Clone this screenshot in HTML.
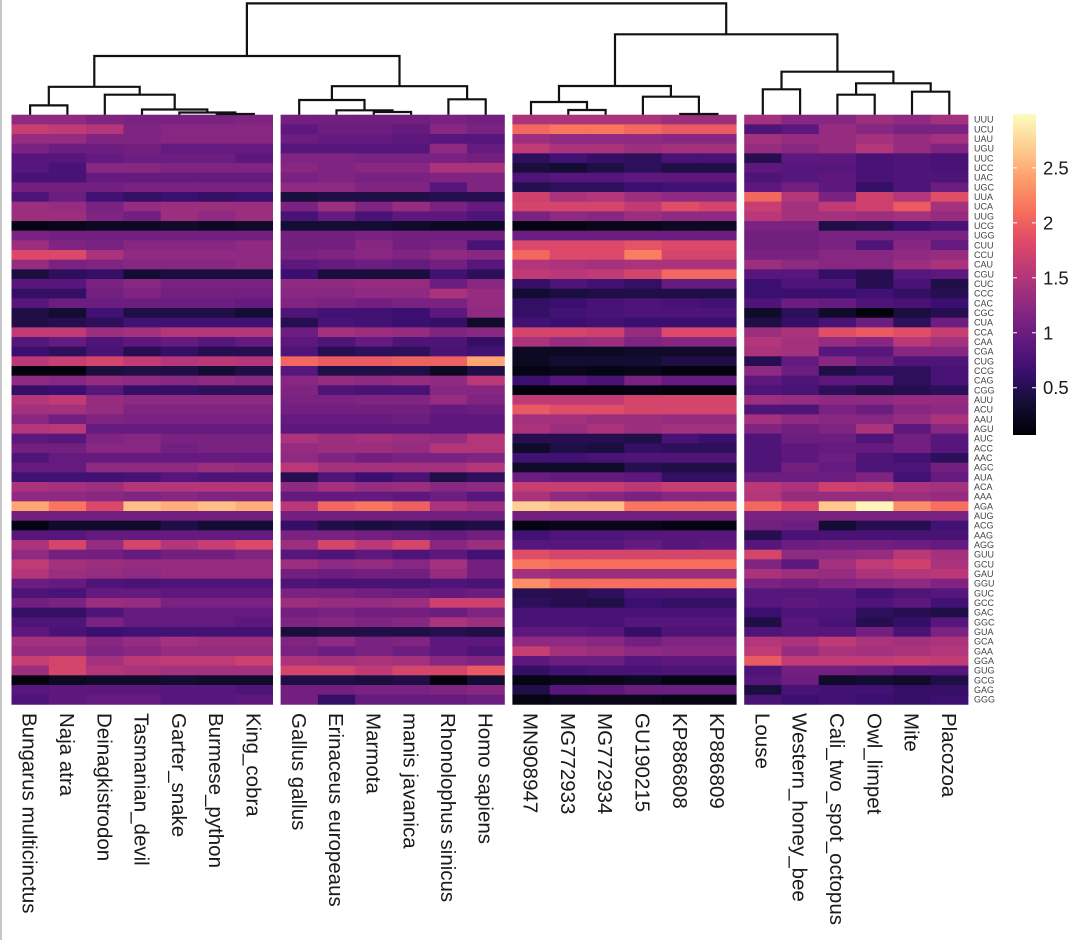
<!DOCTYPE html>
<html><head><meta charset="utf-8">
<style>
html,body{margin:0;padding:0;background:#fff;}
svg{display:block;font-family:"Liberation Sans",Arial,sans-serif;}
</style></head>
<body>
<svg id="chart" width="1080" height="940" viewBox="0 0 1080 940" xmlns="http://www.w3.org/2000/svg">
<rect x="0" y="0" width="1080" height="940" fill="#fff"/>
<line x1="1" y1="0" x2="1" y2="940" stroke="#c8c8c8" stroke-width="2"/>
<g id="cells"></g>
<g id="dendro"></g>
<g id="rowlabels"></g>
<g id="collabels"></g>
<g id="legend"></g>
</svg>
<script>
const codons = ["UUU","UCU","UAU","UGU","UUC","UCC","UAC","UGC","UUA","UCA","UUG","UCG","UGG","CUU","CCU","CAU","CGU","CUC","CCC","CAC","CGC","CUA","CCA","CAA","CGA","CUG","CCG","CAG","CGG","AUU","ACU","AAU","AGU","AUC","ACC","AAC","AGC","AUA","ACA","AAA","AGA","AUG","ACG","AAG","AGG","GUU","GCU","GAU","GGU","GUC","GCC","GAC","GGC","GUA","GCA","GAA","GGA","GUG","GCG","GAG","GGG"];
const species = ["Bungarus multicinctus","Naja atra","Deinagkistrodon","Tasmanian_devil","Garter_snake","Burmese_python","King_cobra","Gallus gallus","Erinaceus europeaus","Marmota","manis javanica","Rhonolophus sinicus","Homo sapiens","MN908947","MG772933","MG772934","GU190215","KP886808","KP886809","Louse","Western_honey_bee","Cali_two_spot_octopus","Owl_limpet","Mite","Placozoa"];
const groupSizes = [7,6,6,6];
const legendTicks = [0.5,1,1.5,2,2.5];
const colorDomain = [0.07,2.99];
const values = [
[1.25,1.25,1.15,1.1,1.1,1.1,1.15, 1.05,1.05,1.05,1.05,1.1,1.05, 1.45,1.45,1.45,1.45,1.35,1.35, 1.4,1.2,1.2,1.35,1.25,1.4],
[1.65,1.6,1.5,1.15,1.2,1.2,1.2, 0.9,1.0,1.0,0.95,1.2,1.1, 2.05,2.15,2.15,2.05,1.95,1.95, 0.8,0.9,1.3,1.2,1.1,1.1],
[1.3,1.3,1.15,1.15,1.2,1.2,1.2, 1.0,0.95,0.95,0.9,0.85,0.85, 1.35,1.25,1.25,1.25,1.2,1.2, 1.4,1.3,1.3,1.4,1.3,1.4],
[1.1,1.0,1.0,1.05,0.95,0.95,0.95, 0.85,0.85,0.85,0.85,1.25,0.95, 1.6,1.45,1.45,1.35,1.4,1.4, 1.3,1.2,1.3,1.5,1.3,1.15],
[0.85,0.85,0.95,1.0,1.0,1.0,0.9, 1.15,1.15,1.1,1.1,1.1,1.05, 0.55,0.7,0.6,0.55,0.75,0.75, 0.5,0.9,0.9,0.75,0.8,0.75],
[0.85,0.75,1.2,1.2,1.15,1.15,1.15, 1.2,1.15,1.2,1.2,1.45,1.45, 0.4,0.35,0.45,0.55,0.45,0.45, 0.9,0.85,0.85,0.75,0.8,0.75],
[0.75,0.75,0.95,0.95,0.95,0.95,0.95, 1.1,1.15,1.1,1.1,1.15,1.15, 0.8,0.85,0.85,0.9,0.9,0.9, 0.8,0.85,0.9,0.75,0.8,0.8],
[1.05,1.05,1.05,1.1,1.1,1.1,1.1, 1.25,1.25,1.15,1.15,0.85,1.15, 0.5,0.55,0.55,0.65,0.7,0.7, 0.9,1.05,0.9,0.6,0.8,1.0],
[0.8,1.0,0.7,0.6,0.65,0.6,0.65, 0.4,0.45,0.45,0.45,0.5,0.5, 1.7,1.45,1.5,1.35,1.25,1.25, 2.05,1.5,1.1,1.7,1.5,1.85],
[1.35,1.3,1.1,1.3,1.35,1.35,1.35, 1.1,1.35,1.15,1.3,1.1,0.95, 1.75,1.75,1.75,1.6,1.85,1.75, 1.65,1.4,1.6,1.7,1.95,1.4],
[1.35,1.35,1.15,1.05,1.35,1.25,1.35, 0.75,0.95,0.75,0.9,0.9,0.8, 1.1,1.25,1.2,1.35,1.25,1.25, 1.55,1.4,1.4,1.35,1.4,1.3],
[0.15,0.2,0.25,0.25,0.3,0.25,0.3, 0.35,0.35,0.35,0.3,0.25,0.25, 0.15,0.15,0.2,0.2,0.25,0.25, 1.1,1.1,0.45,0.5,0.65,0.75],
[1.1,1.05,1.05,1.05,1.05,1.05,1.05, 1.05,1.05,1.1,1.05,1.05,1.05, 1.0,1.0,1.0,1.0,1.0,1.0, 1.05,1.05,1.1,1.1,1.1,1.1],
[1.35,1.15,1.1,1.2,1.2,1.2,1.25, 1.05,1.05,1.2,1.05,1.1,0.75, 1.8,1.8,1.8,1.9,1.8,1.8, 1.05,1.05,1.1,0.8,1.2,0.95],
[1.8,1.8,1.45,1.25,1.25,1.25,1.25, 1.1,1.15,1.2,1.15,1.25,1.2, 2.05,1.8,1.8,2.2,1.75,1.75, 1.1,1.1,1.2,1.2,1.25,1.3],
[1.3,1.1,1.15,1.2,1.2,1.2,1.25, 0.9,0.95,1.0,0.95,1.05,0.85, 1.5,1.45,1.4,1.45,1.45,1.45, 1.35,1.25,1.2,1.2,1.35,1.45],
[0.4,0.55,0.6,0.35,0.4,0.4,0.4, 0.65,0.4,0.4,0.4,0.7,0.55, 1.6,1.55,1.6,1.75,2.05,2.05, 0.85,0.85,0.6,0.5,0.85,0.9],
[0.85,0.85,1.1,1.2,1.1,1.1,1.1, 1.25,1.25,1.3,1.3,1.0,1.2, 0.6,0.8,0.7,0.6,0.95,0.95, 0.65,0.8,0.8,0.5,0.75,0.45],
[0.6,0.6,1.05,1.15,1.05,1.05,1.05, 1.2,1.2,1.25,1.25,1.45,1.3, 0.35,0.4,0.45,0.45,0.45,0.45, 0.65,0.65,0.65,0.7,0.6,0.5],
[0.85,1.0,1.0,1.0,1.0,1.0,0.95, 1.15,1.1,1.05,1.1,1.1,1.3, 0.6,0.65,0.75,0.8,0.75,0.7, 0.8,1.0,0.95,0.8,0.75,0.65],
[0.45,0.35,0.7,0.45,0.45,0.45,0.35, 0.8,0.7,0.7,0.65,0.9,1.25, 0.6,0.7,0.75,0.8,0.8,0.8, 0.3,0.55,0.3,0.12,0.4,0.5],
[0.45,0.5,0.55,0.7,0.7,0.7,0.7, 0.5,0.75,0.7,0.65,0.6,0.3, 0.7,0.65,0.7,0.65,0.65,0.65, 0.45,0.6,0.75,1.0,0.55,1.0],
[1.6,1.6,1.35,1.4,1.5,1.5,1.5, 1.0,1.4,1.35,1.3,1.15,1.2, 1.75,1.75,1.7,1.3,1.8,1.8, 1.35,1.45,1.85,1.95,1.85,1.65],
[0.85,0.95,0.8,0.9,0.95,0.85,0.95, 0.9,0.8,0.95,0.8,0.8,0.6, 1.45,1.3,1.35,1.15,1.2,1.2, 1.5,1.4,1.3,1.2,1.55,1.4],
[0.65,0.55,0.75,0.5,0.6,0.5,0.5, 0.8,0.5,0.55,0.55,0.75,0.7, 0.25,0.25,0.25,0.3,0.3,0.3, 1.45,1.4,0.85,0.85,1.2,1.2],
[1.55,1.65,1.75,1.6,1.5,1.55,1.5, 2.05,1.95,1.95,2.0,2.0,2.45, 0.25,0.35,0.35,0.35,0.45,0.45, 0.5,0.95,1.2,1.0,0.8,0.8],
[0.12,0.12,0.4,0.45,0.45,0.35,0.45, 0.85,0.45,0.45,0.45,0.25,0.45, 0.15,0.2,0.15,0.2,0.12,0.12, 1.25,1.0,0.45,0.55,0.55,0.75],
[1.25,1.2,1.3,1.25,1.2,1.25,1.2, 1.2,1.3,1.25,1.3,1.25,1.55, 0.65,0.85,0.75,1.1,0.95,0.95, 0.9,0.8,0.9,0.9,0.55,0.75],
[0.6,0.65,0.85,0.6,0.6,0.55,0.55, 1.15,0.8,0.75,0.75,1.2,1.2, 0.12,0.12,0.12,0.15,0.12,0.12, 0.8,0.75,0.55,0.45,0.5,0.55],
[1.5,1.6,1.3,1.25,1.25,1.25,1.25, 1.1,1.1,1.15,1.15,1.3,1.15, 1.6,1.6,1.6,1.75,1.75,1.75, 1.35,1.3,1.25,1.25,1.3,1.3],
[1.4,1.4,1.3,1.15,1.15,1.15,1.15, 1.05,1.05,1.05,1.05,0.95,1.0, 1.95,1.85,1.85,1.75,1.75,1.75, 0.8,0.8,1.1,1.0,1.2,1.25],
[1.2,1.05,1.15,1.1,1.1,1.1,1.1, 0.95,0.95,0.95,1.0,0.9,0.9, 1.4,1.4,1.35,1.35,1.3,1.3, 1.4,1.25,1.2,1.2,1.3,1.45],
[1.5,1.55,0.95,0.95,0.95,0.95,0.95, 0.9,0.9,0.9,0.9,0.9,0.9, 1.45,1.35,1.45,1.35,1.4,1.4, 1.15,1.05,1.15,1.45,0.9,1.2],
[0.9,0.85,1.15,1.2,1.1,1.1,1.1, 1.45,1.35,1.4,1.35,1.3,1.5, 0.5,0.5,0.5,0.45,0.75,0.65, 0.8,1.0,1.0,0.8,1.05,0.85],
[1.05,1.05,1.2,1.2,1.05,1.1,1.1, 1.3,1.35,1.35,1.3,1.5,1.5, 0.3,0.45,0.4,0.6,0.55,0.55, 0.8,0.9,0.95,0.95,1.05,0.85],
[0.8,0.95,0.95,0.95,0.95,0.95,0.95, 1.25,1.15,1.05,1.1,1.1,1.15, 0.7,0.7,0.75,0.8,0.8,0.8, 0.8,0.9,1.0,0.8,0.7,0.55],
[0.95,0.95,1.25,1.25,1.25,1.35,1.3, 1.55,1.4,1.4,1.4,1.4,1.5, 0.3,0.3,0.3,0.5,0.45,0.45, 0.8,1.05,0.95,0.8,0.8,1.05],
[0.7,0.7,0.7,0.75,0.85,0.8,0.8, 0.5,0.8,0.65,0.75,0.45,0.55, 1.0,0.95,0.95,0.9,0.6,0.6, 1.0,1.0,1.0,1.15,0.7,0.95],
[1.45,1.4,1.35,1.5,1.5,1.5,1.5, 1.25,1.4,1.3,1.35,1.2,1.25, 1.65,1.65,1.65,1.55,1.65,1.65, 1.55,1.45,1.7,1.65,1.45,1.4],
[1.25,1.25,1.2,1.15,1.2,1.15,1.15, 0.95,0.95,0.95,0.9,1.0,0.85, 1.45,1.25,1.2,1.1,1.2,1.2, 1.5,1.3,1.3,1.3,1.35,1.3],
[2.45,2.15,1.8,2.6,2.5,2.6,2.5, 1.55,2.05,2.15,2.0,1.45,1.35, 2.7,2.6,2.6,2.15,2.15,2.15, 2.05,1.8,2.65,2.95,2.3,2.1],
[1.05,1.05,1.05,1.05,1.05,1.05,1.05, 1.05,1.05,1.05,1.05,1.05,1.05, 1.05,1.05,1.05,1.05,1.05,1.05, 1.1,1.1,1.1,1.1,1.1,1.1],
[0.15,0.3,0.3,0.3,0.45,0.35,0.35, 0.6,0.45,0.4,0.45,0.4,0.45, 0.15,0.2,0.2,0.2,0.15,0.15, 1.05,1.0,0.35,0.5,0.5,0.7],
[0.85,0.85,0.95,0.95,0.95,0.95,0.95, 1.1,1.1,1.05,1.0,0.95,1.05, 0.7,0.8,0.8,0.85,0.85,0.85, 0.5,0.75,0.75,0.75,0.75,0.75],
[1.45,1.75,1.3,1.75,1.5,1.65,1.8, 1.35,1.75,1.55,1.75,1.2,1.35, 0.85,0.85,0.85,0.95,0.85,0.9, 0.85,1.0,1.05,1.05,1.0,0.95],
[1.25,1.05,1.05,0.95,1.05,1.05,1.15, 0.85,0.8,0.9,0.8,0.9,0.7, 1.85,1.75,1.75,1.75,1.75,1.75, 1.75,1.25,1.25,1.3,1.55,1.4],
[1.6,1.4,1.35,1.3,1.3,1.3,1.3, 1.35,1.25,1.3,1.2,1.4,1.05, 2.15,2.1,2.1,2.1,2.1,2.1, 1.15,0.9,1.4,1.6,1.7,1.45],
[1.5,1.35,1.3,1.25,1.3,1.3,1.3, 1.05,1.0,1.05,1.05,1.3,1.05, 1.4,1.35,1.35,1.35,1.35,1.35, 1.45,1.35,1.3,1.45,1.5,1.55],
[1.0,0.95,0.8,0.75,0.8,0.8,0.8, 0.8,0.75,0.75,0.75,0.8,0.75, 2.3,2.1,2.1,2.1,2.1,2.1, 1.1,1.05,1.15,1.2,1.25,1.15],
[0.8,0.75,0.95,0.95,0.9,0.9,0.9, 1.1,1.1,1.05,1.0,0.95,1.0, 0.5,0.5,0.55,0.75,0.75,0.75, 0.85,0.85,0.85,0.7,0.8,0.85],
[1.05,1.1,1.35,1.3,1.1,1.1,1.1, 1.35,1.3,1.3,1.35,1.7,1.7, 0.55,0.5,0.45,0.65,0.6,0.6, 0.85,0.9,0.85,0.8,0.9,0.7],
[0.6,0.6,0.8,0.95,0.95,0.95,0.95, 1.05,1.1,1.05,1.05,1.0,1.15, 0.75,0.75,0.75,0.75,0.75,0.75, 0.65,0.8,0.8,0.55,0.5,0.45],
[0.8,0.8,1.1,0.95,0.95,0.95,0.9, 1.15,1.2,1.15,1.2,1.45,1.35, 0.75,0.75,0.75,0.85,0.85,0.85, 0.45,0.85,0.75,0.5,0.6,0.85],
[0.9,0.75,0.65,0.7,0.7,0.7,0.7, 0.4,0.45,0.45,0.45,0.5,0.45, 0.9,0.9,0.85,0.6,0.8,0.8, 0.8,0.85,0.85,1.05,0.75,1.1],
[1.4,1.4,1.2,1.3,1.4,1.35,1.35, 1.15,1.25,1.1,1.15,0.9,0.9, 1.25,1.25,1.2,1.05,1.15,1.15, 1.5,1.45,1.6,1.45,1.4,1.45],
[1.3,1.3,1.15,1.2,1.3,1.3,1.3, 1.1,1.0,1.1,1.0,0.9,0.8, 1.65,1.4,1.35,1.25,1.2,1.2, 1.6,1.3,1.45,1.4,1.45,1.5],
[1.65,1.75,1.4,1.55,1.6,1.6,1.7, 1.45,1.4,1.45,1.4,1.2,1.15, 0.9,1.0,1.0,0.85,0.9,0.9, 1.95,1.6,1.6,1.6,1.65,1.6],
[1.35,1.75,1.5,1.45,1.4,1.4,1.4, 1.75,1.75,1.6,1.75,1.75,1.95, 0.6,0.7,0.75,0.75,0.8,0.8, 0.8,1.05,1.05,1.0,0.85,0.85],
[0.12,0.25,0.3,0.3,0.35,0.3,0.3, 0.45,0.45,0.4,0.45,0.12,0.35, 0.15,0.2,0.2,0.25,0.15,0.15, 0.85,1.0,0.3,0.35,0.3,0.45],
[0.85,0.9,0.9,0.9,0.85,0.85,0.8, 1.05,1.05,1.1,1.1,1.15,1.2, 0.45,0.85,0.9,1.0,1.0,1.0, 0.4,0.75,0.7,0.7,0.6,0.6],
[0.8,0.9,0.95,0.95,0.85,0.85,0.9, 1.05,0.6,0.95,0.95,0.95,1.0, 0.15,0.2,0.2,0.2,0.15,0.15, 0.75,0.65,0.7,0.65,0.6,0.65]
];
const merges = [
[0,1,105.4],[5,6,114],[4,"n1",112.5],[3,"n2",109.5],[2,"n3",94.7],["n0","n4",86.8],
[9,10,112],[8,"n6",110.3],[7,"n7",100],[11,12,99.3],["n8","n9",86.2],["n5","n10",56],
[14,15,110],[13,"n12",102],[17,18,114],[16,"n14",96.7],["n13","n15",86],
[19,20,89.3],[21,22,94.7],[23,24,91.7],["n18","n19",83.3],["n17","n20",71.7],
["n16","n21",34.3],["n11","n22",3.4]
];

const NS="http://www.w3.org/2000/svg";
const X0=11.5, COLW=37.3, GAP=8, Y0=114.7, ROWH=9.666;
const magma=["#000004","#140e36","#3b0f70","#641a80","#8c2981","#b73779","#de4968","#f7705c","#fe9f6d","#fecf92","#fcfdbf"];
function hex(c){return [parseInt(c.slice(1,3),16),parseInt(c.slice(3,5),16),parseInt(c.slice(5,7),16)];}
function color(v){
  let t=(v-colorDomain[0])/(colorDomain[1]-colorDomain[0]);t=Math.max(0,Math.min(1,t));
  const p=t*10,i=Math.min(9,Math.floor(p)),f=p-i;const a=hex(magma[i]),b=hex(magma[i+1]);
  return "rgb("+a.map((x,k)=>Math.round(x+(b[k]-x)*f)).join(",")+")";
}
function colX(j){let g=0,acc=0;while(j>=acc+groupSizes[g]){acc+=groupSizes[g];g++;}return X0+j*COLW+g*GAP;}
function colC(j){return colX(j)+COLW/2;}
function rowY(i){return Y0+i*ROWH;}
function mk(tag,attrs,parent){const e=document.createElementNS(NS,tag);for(const k in attrs)e.setAttribute(k,attrs[k]);parent.appendChild(e);return e;}

const cells=document.getElementById("cells");
values.forEach((row,i)=>{row.forEach((v,j)=>{
  const r=mk("rect",{x:colX(j).toFixed(2),y:rowY(i).toFixed(2),width:(COLW+0.4).toFixed(2),height:(ROWH+0.4).toFixed(2),fill:color(v)},cells);
  
  
});});

const rl=document.getElementById("rowlabels");
codons.forEach((c,i)=>{
  const t=mk("text",{x:974,y:(rowY(i)+ROWH/2+3.2).toFixed(2),"font-size":"9","fill":"#444"},rl);
  t.textContent=c;
  
  
});

const cl=document.getElementById("collabels");
species.forEach((s,j)=>{
  const cx=colC(j);
  const t=mk("text",{x:0,y:0,"font-size":"20.5","fill":"#1a1a1a",transform:"translate("+(cx-7.5).toFixed(2)+",713) rotate(90)"},cl);
  t.textContent=s;
  
  
});

const dg=document.getElementById("dendro");
const LEAFY=Y0;
const nodes=[];
function info(ref){if(typeof ref==="number")return {x:colC(ref),y:LEAFY};return nodes[parseInt(ref.slice(1))];}
let d="";
merges.forEach(m=>{
  const a=info(m[0]),b=info(m[1]),y=m[2];
  d+="M"+a.x.toFixed(1)+","+a.y.toFixed(1)+"V"+y+"H"+b.x.toFixed(1)+"V"+b.y.toFixed(1);
  nodes.push({x:(a.x+b.x)/2,y:y});
});
const dp=mk("path",{d:d,fill:"none",stroke:"#111","stroke-width":"2.2","stroke-linejoin":"miter"},dg);



const lg=document.getElementById("legend");
const defs=mk("defs",{},lg);
const grad=mk("linearGradient",{id:"mg",x1:"0",y1:"1",x2:"0",y2:"0"},defs);
magma.forEach((c,i)=>mk("stop",{offset:(i*10)+"%","stop-color":c},grad));
const LT=114,LB=435,LX=1013,LW=23;
const bar=mk("rect",{x:LX,y:LT,width:LW,height:LB-LT,fill:"url(#mg)"},lg);


function ly(v){return LB-(v-colorDomain[0])/(colorDomain[1]-colorDomain[0])*(LB-LT);}
legendTicks.forEach(v=>{
  const y=ly(v);
  mk("line",{x1:LX,x2:LX+4,y1:y,y2:y,stroke:"#fff","stroke-width":"1"},lg);
  mk("line",{x1:LX+LW-4,x2:LX+LW,y1:y,y2:y,stroke:"#fff","stroke-width":"1"},lg);
  const t=mk("text",{x:1043,y:(y+6.5).toFixed(1),"font-size":"18.5","fill":"#1a1a1a"},lg);
  t.textContent=String(v);
  
  
});
</script>
</body></html>
